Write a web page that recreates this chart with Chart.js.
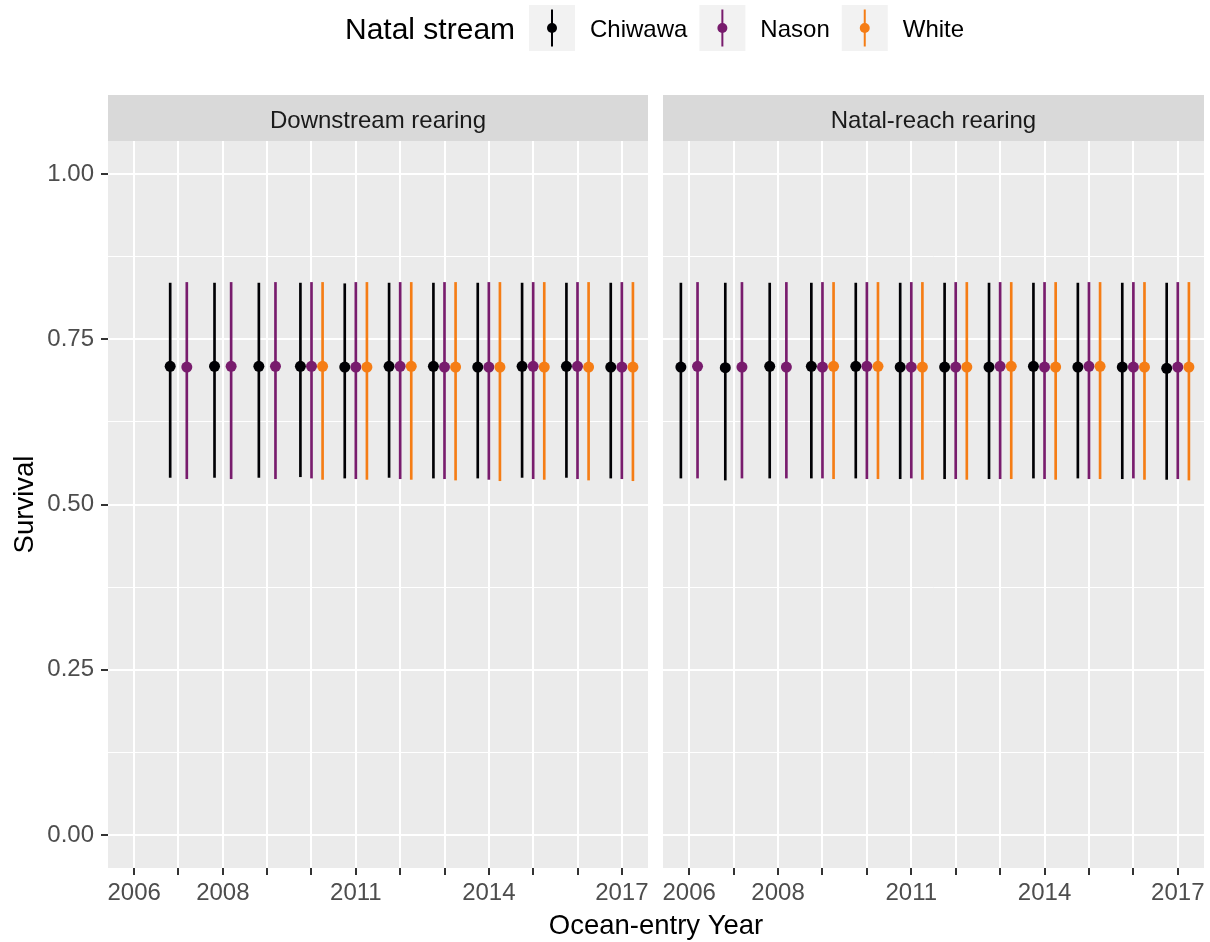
<!DOCTYPE html>
<html>
<head>
<meta charset="utf-8">
<title>Survival by ocean-entry year</title>
<script src="https://cdn.jsdelivr.net/npm/chart.js@4.4.1/dist/chart.umd.min.js"></script>
<style>
  html, body { margin: 0; padding: 0; background: #ffffff; }
  #wrap { position: relative; width: 1210px; height: 942px; }
  #wrap canvas { position: absolute; left: 0; top: 0; }
</style>
</head>
<body>
<div id="wrap">
  <canvas id="downstream" width="1210" height="942"></canvas>
  <canvas id="natal" width="1210" height="942"></canvas>
</div>
<script>
// ---- data -------------------------------------------------------------
const years = [2006, 2007, 2008, 2009, 2010, 2011, 2012, 2013, 2014, 2015, 2016, 2017];
const labeledYears = [2006, 2008, 2011, 2014, 2017];
const yTicks = [0, 0.125, 0.25, 0.375, 0.5, 0.625, 0.75, 0.875, 1.0];
const streams = ['Chiwawa', 'Nason', 'White'];
const facets = ['Downstream rearing', 'Natal-reach rearing'];

// Downstream rearing
const dsChiwawaYears = [2007, 2008, 2009, 2010, 2011, 2012, 2013, 2014, 2015, 2016, 2017];
const dsChiwawaEst = [0.709, 0.709, 0.709, 0.709, 0.708, 0.709, 0.709, 0.708, 0.709, 0.709, 0.708];
const dsChiwawaLo  = [0.541, 0.541, 0.541, 0.542, 0.540, 0.541, 0.540, 0.540, 0.541, 0.541, 0.540];
const dsChiwawaHi  = [0.835, 0.835, 0.835, 0.835, 0.834, 0.835, 0.835, 0.835, 0.835, 0.835, 0.835];

const dsNasonYears = [2007, 2008, 2009, 2010, 2011, 2012, 2013, 2014, 2015, 2016, 2017];
const dsNasonEst = [0.708, 0.709, 0.709, 0.709, 0.708, 0.709, 0.708, 0.708, 0.709, 0.709, 0.708];
const dsNasonLo  = [0.539, 0.539, 0.539, 0.540, 0.539, 0.539, 0.539, 0.538, 0.539, 0.539, 0.539];
const dsNasonHi  = [0.836, 0.836, 0.836, 0.836, 0.836, 0.836, 0.836, 0.836, 0.836, 0.836, 0.836];

const dsWhiteYears = [2010, 2011, 2012, 2013, 2014, 2015, 2016, 2017];
const dsWhiteEst = [0.709, 0.708, 0.709, 0.708, 0.708, 0.708, 0.708, 0.708];
const dsWhiteLo  = [0.538, 0.538, 0.538, 0.537, 0.536, 0.538, 0.537, 0.536];
const dsWhiteHi  = [0.836, 0.836, 0.836, 0.836, 0.836, 0.836, 0.836, 0.836];

// Natal-reach rearing
const nrChiwawaYears = [2006, 2007, 2008, 2009, 2010, 2011, 2012, 2013, 2014, 2015, 2016, 2017];
const nrChiwawaEst = [0.708, 0.707, 0.709, 0.709, 0.709, 0.708, 0.708, 0.708, 0.709, 0.708, 0.708, 0.706];
const nrChiwawaLo  = [0.540, 0.537, 0.540, 0.540, 0.540, 0.539, 0.539, 0.539, 0.540, 0.540, 0.539, 0.538];
const nrChiwawaHi  = [0.835, 0.835, 0.835, 0.835, 0.835, 0.835, 0.835, 0.835, 0.835, 0.835, 0.835, 0.835];

const nrNasonYears = [2006, 2007, 2008, 2009, 2010, 2011, 2012, 2013, 2014, 2015, 2016, 2017];
const nrNasonEst = [0.709, 0.708, 0.708, 0.708, 0.709, 0.708, 0.708, 0.709, 0.708, 0.709, 0.708, 0.708];
const nrNasonLo  = [0.540, 0.540, 0.540, 0.540, 0.539, 0.540, 0.539, 0.539, 0.539, 0.539, 0.540, 0.539];
const nrNasonHi  = [0.836, 0.836, 0.836, 0.836, 0.836, 0.836, 0.836, 0.836, 0.836, 0.836, 0.836, 0.836];

const nrWhiteYears = [2009, 2010, 2011, 2012, 2013, 2014, 2015, 2016, 2017];
const nrWhiteEst = [0.709, 0.709, 0.708, 0.708, 0.709, 0.708, 0.709, 0.708, 0.708];
const nrWhiteLo  = [0.539, 0.539, 0.538, 0.538, 0.539, 0.538, 0.539, 0.538, 0.537];
const nrWhiteHi  = [0.836, 0.836, 0.836, 0.836, 0.836, 0.836, 0.836, 0.836, 0.836];

// ---- styling ----------------------------------------------------------
const palette = { Chiwawa: '#000004', Nason: '#781C6D', White: '#F57D15' };
const FONT = '"Liberation Sans", Arial, Helvetica, sans-serif';
const DODGE = 0.75;

Chart.defaults.font.family = FONT;

function series(name, yrs, est, lo, hi) {
  return { name, yrs, est, lo, hi };
}

const panels = [
  [series('Chiwawa', dsChiwawaYears, dsChiwawaEst, dsChiwawaLo, dsChiwawaHi),
   series('Nason', dsNasonYears, dsNasonEst, dsNasonLo, dsNasonHi),
   series('White', dsWhiteYears, dsWhiteEst, dsWhiteLo, dsWhiteHi)],
  [series('Chiwawa', nrChiwawaYears, nrChiwawaEst, nrChiwawaLo, nrChiwawaHi),
   series('Nason', nrNasonYears, nrNasonEst, nrNasonLo, nrNasonHi),
   series('White', nrWhiteYears, nrWhiteEst, nrWhiteLo, nrWhiteHi)]
];

// position_dodge: groups present in a year share a slot of width DODGE
function dodgedX(panel, s, year) {
  const present = panel.filter(p => p.yrs.includes(year)).map(p => p.name);
  const n = present.length;
  const i = present.indexOf(s.name);
  return year + (i - (n - 1) / 2) * (DODGE / n);
}

function buildDatasets(panel) {
  const out = [];
  const k = panel.length;
  panel.forEach((s, si) => {
    out.push({
      type: 'bar',
      label: s.name + ' interval',
      data: s.yrs.map((yr, j) => ({ x: dodgedX(panel, s, yr), y: [s.lo[j], s.hi[j]] })),
      backgroundColor: palette[s.name],
      borderWidth: 0,
      borderSkipped: false,
      barThickness: 2,
      grouped: false,
      order: 2 * k - si
    });
  });
  panel.forEach((s, si) => {
    out.push({
      type: 'scatter',
      label: s.name,
      data: s.yrs.map((yr, j) => ({ x: dodgedX(panel, s, yr), y: s.est[j] })),
      backgroundColor: palette[s.name],
      borderWidth: 0,
      pointRadius: 5.5,
      pointHoverRadius: 5.5,
      order: k - si
    });
  });
  return out;
}

const isMajorY = v => Math.abs(v * 4 - Math.round(v * 4)) < 1e-9;

// Grey panel, facet strip and white page underneath
const panelDecor = {
  id: 'panelDecor',
  beforeDraw(chart, args, o) {
    const { ctx, chartArea: a } = chart;
    ctx.save();
    if (o.page) {
      ctx.fillStyle = '#FFFFFF';
      ctx.fillRect(0, 0, chart.width, chart.height);
    }
    ctx.fillStyle = '#EBEBEB';
    ctx.fillRect(a.left, a.top, a.right - a.left, a.bottom - a.top);
    const stripTop = a.top - 46;
    ctx.fillStyle = '#D9D9D9';
    ctx.fillRect(a.left, stripTop, a.right - a.left, 46);
    ctx.fillStyle = '#1A1A1A';
    ctx.font = '24px ' + FONT;
    ctx.textAlign = 'center';
    ctx.textBaseline = 'alphabetic';
    ctx.fillText(o.strip, (a.left + a.right) / 2, stripTop + 32.5);
    ctx.restore();
  }
};

// Legend across the top and the shared axis titles
const sharedText = {
  id: 'sharedText',
  afterDraw(chart, args, o) {
    if (!o.enabled) return;
    const ctx = chart.ctx;
    ctx.save();
    ctx.fillStyle = '#000000';
    ctx.textAlign = 'left';
    ctx.textBaseline = 'alphabetic';
    ctx.font = '30px ' + FONT;
    ctx.fillText('Natal stream', 345, 38.7);

    ctx.font = '24px ' + FONT;
    let x = 529;
    streams.forEach(name => {
      ctx.fillStyle = '#F2F2F2';
      ctx.fillRect(x, 5, 46, 46);
      ctx.strokeStyle = palette[name];
      ctx.lineWidth = 2;
      ctx.beginPath();
      ctx.moveTo(x + 23, 9.5);
      ctx.lineTo(x + 23, 46.5);
      ctx.stroke();
      ctx.fillStyle = palette[name];
      ctx.beginPath();
      ctx.arc(x + 23, 28, 5, 0, Math.PI * 2);
      ctx.fill();
      ctx.fillStyle = '#000000';
      const lx = x + 61;
      ctx.fillText(name, lx, 37);
      x = lx + ctx.measureText(name).width + 12;
    });

    ctx.font = '27.5px ' + FONT;
    ctx.textAlign = 'center';
    ctx.fillText('Ocean-entry Year', 656, 933.5);

    ctx.translate(33, 504.5);
    ctx.rotate(-Math.PI / 2);
    ctx.fillText('Survival', 0, 0);
    ctx.restore();
  }
};

function makePanel(canvasId, panel, facet, first) {
  return new Chart(document.getElementById(canvasId), {
    type: 'scatter',
    data: { datasets: buildDatasets(panel) },
    plugins: [panelDecor, sharedText],
    options: {
      responsive: false,
      animation: false,
      events: [],
      devicePixelRatio: 1,
      layout: {
        padding: first
          ? { left: 0, right: 562, top: 141, bottom: 0 }
          : { left: 663, right: 6, top: 141, bottom: 0 }
      },
      plugins: {
        legend: { display: false },
        tooltip: { enabled: false },
        title: { display: false },
        panelDecor: { strip: facet, page: first },
        sharedText: { enabled: first }
      },
      scales: {
        x: {
          type: 'linear',
          min: 2005.41,
          max: 2017.59,
          offset: false,
          afterBuildTicks: s => { s.ticks = years.map(v => ({ value: v })); },
          afterFit: s => { s.height = 74; },
          border: { display: false },
          grid: {
            offset: false,
            color: '#FFFFFF',
            lineWidth: 2,
            drawTicks: true,
            tickLength: 7,
            tickWidth: 2,
            tickColor: '#333333'
          },
          ticks: {
            autoSkip: false,
            maxRotation: 0,
            padding: 4,
            color: '#4D4D4D',
            font: { size: 24, family: FONT },
            callback: v => (labeledYears.includes(v) ? String(v) : '')
          }
        },
        y: {
          type: 'linear',
          min: -0.05,
          max: 1.05,
          beginAtZero: false,
          afterBuildTicks: s => { s.ticks = yTicks.map(v => ({ value: v })); },
          afterFit: s => { s.width = first ? 108 : 0; },
          border: { display: false },
          grid: {
            color: '#FFFFFF',
            lineWidth: c => (isMajorY(c.tick.value) ? 2 : 1),
            drawTicks: first,
            tickLength: 7,
            tickWidth: 2,
            tickColor: c => (isMajorY(c.tick.value) ? '#333333' : 'rgba(0,0,0,0)')
          },
          ticks: {
            display: first,
            padding: 7,
            color: '#4D4D4D',
            font: { size: 24, family: FONT },
            callback: v => (isMajorY(v) ? v.toFixed(2) : '')
          }
        }
      }
    }
  });
}

makePanel('downstream', panels[0], facets[0], true);
makePanel('natal', panels[1], facets[1], false);
</script>
</body>
</html>
